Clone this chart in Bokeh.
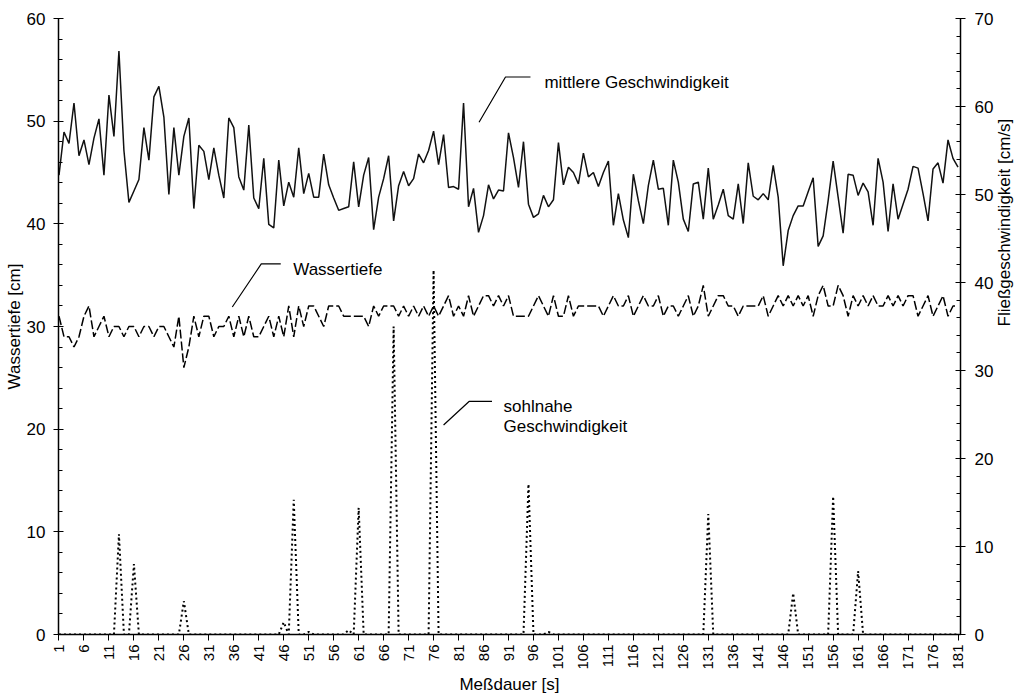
import math
from bokeh.plotting import figure
from bokeh.models import Range1d, LinearAxis, FixedTicker, Label
from bokeh.embed import file_html
from bokeh.resources import INLINE

# ---------------- data ----------------
seconds = list(range(1, 182))

# mittlere Geschwindigkeit [cm/s] (right axis)
mittlere = [
    52.2, 57.1, 55.8, 60.4, 54.4, 56.2, 53.4, 56.4, 58.6, 52.2,
    61.3, 56.6, 66.3, 55.0, 49.1, 50.4, 51.7, 57.6, 53.9, 61.1,
    62.3, 58.8, 50.0, 57.6, 52.2, 56.6, 58.7, 48.4, 55.6, 54.9,
    51.7, 55.3, 52.2, 49.6, 58.7, 57.6, 52.0, 50.5, 57.9, 49.6,
    48.4, 54.1, 46.6, 46.2, 53.9, 48.7, 51.4, 49.7, 55.3, 50.1,
    52.4, 49.7, 49.7, 54.6, 51.1, 49.6, 48.2, 48.4, 48.6, 53.7,
    48.6, 52.2, 54.2, 46.0, 49.7, 51.8, 54.4, 47.0, 51.0, 52.6,
    51.0, 51.8, 54.6, 53.6, 55.0, 57.2, 53.4, 56.8, 50.8, 50.9,
    50.6, 60.4, 48.6, 50.7, 45.7, 47.6, 51.1, 49.5, 50.5, 50.4,
    57.0, 54.2, 50.8, 56.0, 48.9, 47.4, 47.8, 49.9, 48.6, 49.4,
    55.9, 51.1, 53.1, 52.5, 51.2, 54.7, 52.0, 52.5, 50.9, 52.5,
    53.8, 46.5, 50.1, 47.1, 45.1, 52.3, 49.3, 46.7, 51.0, 53.9,
    50.6, 50.7, 46.5, 53.9, 51.4, 47.2, 45.8, 51.2, 51.4, 47.2,
    53.0, 47.2, 48.8, 50.6, 47.6, 47.2, 51.2, 46.7, 53.6, 49.8,
    49.4, 50.1, 49.4, 53.3, 49.7, 41.9, 45.9, 47.6, 48.7, 48.7,
    50.3, 51.9, 44.1, 45.3, 49.3, 53.8, 49.7, 45.6, 52.3, 52.2,
    49.9, 51.3, 50.3, 46.5, 54.1, 51.4, 45.8, 51.2, 47.2, 48.9,
    50.6, 53.2, 53.0, 50.1, 47.0, 52.9, 53.6, 51.3, 56.2, 54.1, 53.1,
]

# Wassertiefe [cm] (left axis)
wassertiefe = [
    31, 29, 29, 28, 29, 31, 32, 29, 30, 31,
    29, 30, 30, 29, 30, 30, 29, 30, 30, 29,
    30, 30, 29, 28, 31, 26, 28, 31, 29, 31,
    31, 29, 30, 30, 31, 29, 31, 29, 31, 29,
    29, 30, 31, 29, 31, 29, 32, 29, 32, 30,
    32, 32, 31, 30, 32, 32, 32, 31, 31, 31,
    31, 31, 30, 32, 31, 32, 32, 32, 31, 32,
    31, 32, 31, 32, 31, 32, 31, 32, 33, 31,
    32, 31, 33, 31, 32, 33, 33, 32, 33, 32,
    33, 31, 31, 31, 31, 32, 33, 32, 31, 33,
    31, 31, 33, 31, 32, 32, 32, 32, 32, 31,
    32, 33, 32, 32, 33, 31, 32, 33, 32, 32,
    33, 31, 32, 32, 31, 32, 33, 31, 32, 34,
    31, 32, 33, 33, 32, 32, 31, 32, 32, 32,
    32, 33, 31, 32, 33, 32, 33, 32, 33, 32,
    33, 31, 33, 34, 32, 32, 34, 33, 31, 33,
    32, 33, 32, 33, 32, 32, 33, 32, 33, 32,
    33, 33, 31, 32, 33, 31, 32, 33, 31, 32, 32,
]

# sohlnahe Geschwindigkeit [cm/s] (right axis)
sohlnahe = [
    0, 0, 0, 0, 0, 0, 0, 0, 0, 0,
    0, 0, 11.4, 0, 0, 8.0, 0, 0, 0, 0,
    0, 0, 0, 0, 0, 3.8, 0, 0, 0, 0,
    0, 0, 0, 0, 0, 0, 0, 0, 0, 0,
    0, 0, 0, 0, 0, 1.4, 0, 15.3, 0, 0,
    0.3, 0, 0, 0, 0, 0, 0, 0, 0.5, 0,
    14.4, 0, 0, 0, 0, 0, 0, 35.0, 0, 0,
    0, 0, 0, 0, 0, 41.4, 0, 0, 0, 0,
    0, 0, 0, 0, 0, 0, 0, 0, 0, 0,
    0, 0, 0, 0, 17.1, 0, 0, 0, 0.3, 0,
    0, 0, 0, 0, 0, 0, 0, 0, 0, 0,
    0, 0, 0, 0, 0, 0, 0, 0, 0, 0,
    0, 0, 0, 0, 0, 0, 0, 0, 0, 0,
    13.7, 0, 0, 0, 0, 0, 0, 0, 0, 0,
    0, 0, 0, 0, 0, 0, 0, 4.7, 0, 0,
    0, 0, 0, 0, 0, 15.7, 0, 0, 0, 0,
    7.2, 0, 0, 0, 0, 0, 0, 0, 0, 0,
    0, 0, 0, 0, 0, 0, 0, 0, 0, 0, 0,
]

x_ticks = list(range(1, 182, 5))
depth_ticks = list(range(0, 61, 10))
depth_minor = list(range(0, 61, 2))
vel_ticks = list(range(0, 71, 10))
vel_minor = list(range(0, 71, 2))

# annotation (leader lines + texts), in left-axis data units
lead_mittlere_x = [85.1, 90.4, 95.4]
lead_mittlere_y = [49.9, 54.3, 54.3]
lead_tiefe_x = [35.7, 41.5, 45.4]
lead_tiefe_y = [31.9, 36.1, 36.1]
lead_sohl_x = [78.0, 83.1, 87.7]
lead_sohl_y = [20.4, 22.7, 22.7]

FONT = "Liberation Sans"

p = figure(width=1026, height=696,
           x_range=Range1d(0.9, 181.5), y_range=Range1d(0, 60),
           output_backend="svg", toolbar_location=None,
           min_border_left=58, min_border_right=66,
           min_border_top=18, min_border_bottom=62)
p.extra_y_ranges = {"vel": Range1d(0, 70)}
p.grid.visible = False
p.outline_line_color = None
p.background_fill_color = "white"
p.border_fill_color = "white"

# x axis
xa = p.xaxis[0]
xa.ticker = FixedTicker(ticks=x_ticks)
xa.minor_tick_line_color = None
xa.major_tick_in = 0
xa.major_tick_out = 6
xa.major_label_orientation = math.pi / 2
xa.major_label_standoff = 4
xa.major_label_text_font = FONT
xa.major_label_text_font_size = "15px"
xa.major_label_text_color = "black"
xa.axis_label = "Meßdauer [s]"
xa.axis_label_text_font = FONT
xa.axis_label_text_font_size = "17px"
xa.axis_label_text_font_style = "normal"
xa.axis_label_text_color = "black"
xa.axis_label_standoff = 2
xa.axis_line_width = 1.5
xa.axis_line_color = "black"
xa.major_tick_line_color = "black"

# left axis
ya = p.yaxis[0]
ya.ticker = FixedTicker(ticks=depth_ticks, minor_ticks=depth_minor)
ya.major_tick_in = 5
ya.major_tick_out = 5
ya.minor_tick_in = 4
ya.minor_tick_out = 0
ya.major_label_standoff = 8
ya.major_label_text_font = FONT
ya.major_label_text_font_size = "17px"
ya.major_label_text_color = "black"
ya.axis_label = "Wassertiefe [cm]"
ya.axis_label_text_font = FONT
ya.axis_label_text_font_size = "17px"
ya.axis_label_text_font_style = "normal"
ya.axis_label_text_color = "black"
ya.axis_label_standoff = 0
ya.axis_line_width = 1.5
ya.axis_line_color = "black"
ya.major_tick_line_color = "black"
ya.minor_tick_line_color = "black"

# right axis
ra = LinearAxis(y_range_name="vel")
ra.ticker = FixedTicker(ticks=vel_ticks, minor_ticks=vel_minor)
ra.major_tick_in = 5
ra.major_tick_out = 5
ra.minor_tick_in = 4
ra.minor_tick_out = 0
ra.major_label_standoff = 9
ra.major_label_text_font = FONT
ra.major_label_text_font_size = "17px"
ra.major_label_text_color = "black"
ra.axis_label = "Fließgeschwindigkeit [cm/s]"
ra.axis_label_text_font = FONT
ra.axis_label_text_font_size = "17px"
ra.axis_label_text_font_style = "normal"
ra.axis_label_text_color = "black"
ra.axis_label_standoff = 8
ra.axis_line_width = 1.5
ra.axis_line_color = "black"
ra.major_tick_line_color = "black"
ra.minor_tick_line_color = "black"
try:
    ra.axis_label_orientation = math.pi / 2
except Exception:
    pass
p.add_layout(ra, "right")

# series
p.line(seconds, sohlnahe, y_range_name="vel", line_color="black",
       line_width=2, line_dash="2 3")
p.line(seconds, wassertiefe, line_color="black", line_width=1.5,
       line_dash="9 3")
p.line(seconds, mittlere, y_range_name="vel", line_color="#111111",
       line_width=1.5)

# leader lines
for lx, ly in [(lead_mittlere_x, lead_mittlere_y),
               (lead_tiefe_x, lead_tiefe_y),
               (lead_sohl_x, lead_sohl_y)]:
    p.line(lx, ly, line_color="black", line_width=1.2)

labels = [
    (98.2, 53.8, "mittlere  Geschwindigkeit"),
    (47.9, 35.6, "Wassertiefe"),
    (90.0, 22.2, "sohlnahe"),
    (90.0, 20.3, "Geschwindigkeit"),
]
for lx, ly, txt in labels:
    p.add_layout(Label(x=lx, y=ly, text=txt, text_font=FONT,
                       text_font_size="17px", text_color="black",
                       text_baseline="alphabetic", text_align="left"))

open("out.html", "w").write(file_html(p, INLINE))
